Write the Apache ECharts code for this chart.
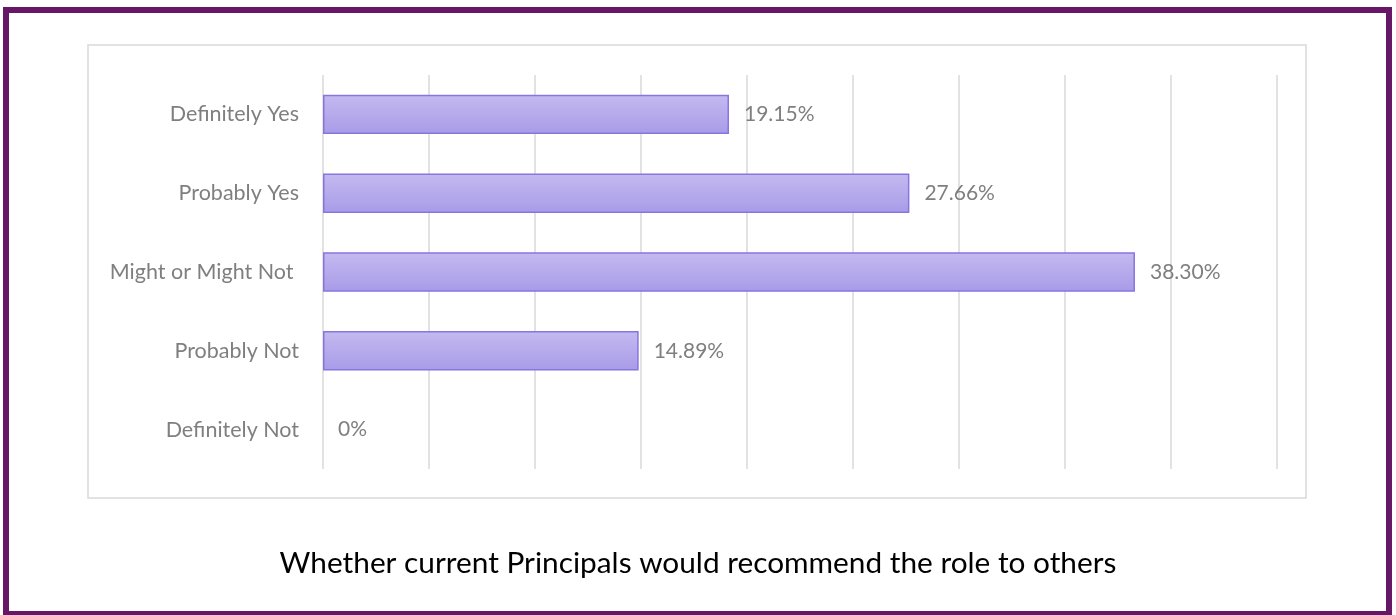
<!DOCTYPE html>
<html>
<head>
<meta charset="utf-8">
<script src="https://cdn.jsdelivr.net/npm/echarts@6/dist/echarts.min.js"></script>
<style>
  html, body { margin: 0; padding: 0; background: #fff; }
  #chart { width: 1396px; height: 615px; }
</style>
</head>
<body>
<div id="chart"></div>
<script>
const categories = ['Definitely Yes', 'Probably Yes', 'Might or Might Not ', 'Probably Not', 'Definitely Not']
const values = [19.15, 27.66, 38.30, 14.89, 0]
const titleText = 'Whether current Principals would recommend the role to others'

const chart = echarts.init(document.getElementById('chart'))

// hide the border on a zero-length bar, as the original shows nothing there
const barData = values.map(v => (v === 0 ? { value: v, itemStyle: { borderWidth: 0 } } : v))

chart.setOption({
  animation: false,
  textStyle: { fontFamily: 'Lato' },
  title: {
    text: titleText,
    left: 'center',
    top: 543,
    textStyle: { color: '#000', fontSize: 29.8, fontWeight: 'normal', fontFamily: 'Lato' },
  },
  graphic: [
    // outer purple frame
    {
      type: 'rect',
      shape: { x: 6, y: 10, width: 1383, height: 604 },
      style: { fill: 'none', stroke: '#661866', lineWidth: 6 },
      silent: true,
    },
    // inner chart area frame
    {
      type: 'rect',
      shape: { x: 88, y: 45, width: 1218, height: 453 },
      style: { fill: 'none', stroke: '#d9d9d9', lineWidth: 1.5 },
      silent: true,
    },
  ],
  grid: {
    left: 323,
    right: 119,
    top: 75,
    bottom: 146,
    containLabel: false,
  },
  xAxis: {
    type: 'value',
    min: 0,
    max: 45,
    interval: 5,
    axisLine: { show: false },
    axisTick: { show: false },
    axisLabel: { show: false },
    splitLine: { lineStyle: { color: '#d9d9d9', width: 1.5 } },
  },
  yAxis: {
    type: 'category',
    data: categories,
    inverse: true,
    axisLine: { show: false },
    axisTick: { show: false },
    axisLabel: { color: '#7f7f7f', fontSize: 21.5, margin: 24, fontFamily: 'Lato' },
  },
  series: [
    {
      type: 'bar',
      data: barData,
      barCategoryGap: '50%',
      itemStyle: {
        color: new echarts.graphic.LinearGradient(0, 0, 0, 1, [
          { offset: 0, color: '#c4baf0' },
          { offset: 1, color: '#a89be8' },
        ]),
        borderColor: '#8a74e0',
        borderWidth: 1.5,
      },
      label: {
        show: true,
        position: 'right',
        distance: 15,
        color: '#7f7f7f',
        fontSize: 21,
        fontFamily: 'Lato',
        formatter: p => (p.value === 0 ? '0%' : p.value.toFixed(2) + '%'),
      },
    },
  ],
})

window.addEventListener('resize', () => chart.resize())
</script>
</body>
</html>
